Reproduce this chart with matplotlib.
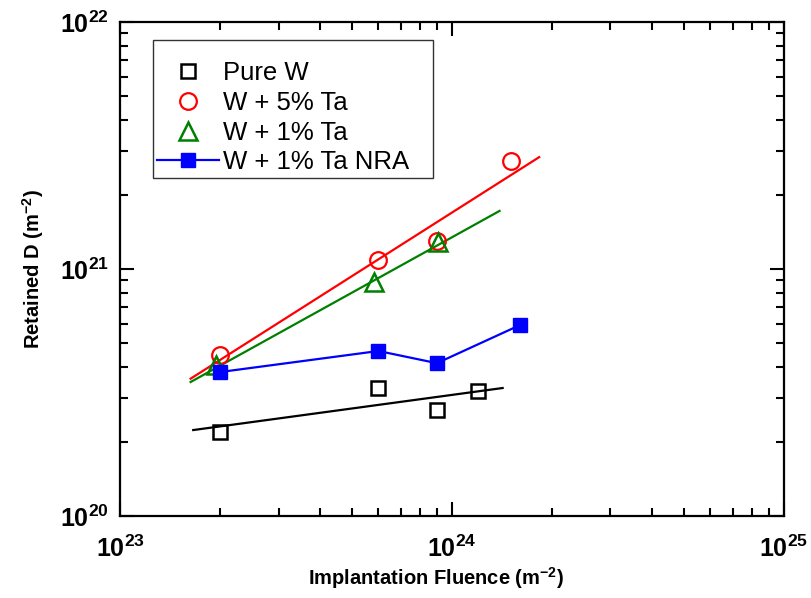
import math
import matplotlib
matplotlib.use("Agg")
import matplotlib.pyplot as plt
import matplotlib.ticker as ticker

# Data
fluence_pure = [2.0e23, 6.0e23, 9.0e23, 1.2e24]
retained_pure = [2.2e20, 3.3e20, 2.68e20, 3.2e20]

fluence_5ta = [2.0e23, 6.0e23, 9.0e23, 1.5e24]
retained_5ta = [4.5e20, 1.09e21, 1.3e21, 2.74e21]

fluence_1ta = [1.95e23, 5.8e23, 9.05e23]
retained_1ta = [4.1e20, 8.85e20, 1.29e21]

fluence_nra = [2.0e23, 6.0e23, 9.0e23, 1.6e24]
retained_nra = [3.83e20, 4.66e20, 4.16e20, 5.93e20]

# fitted trend lines (end points)
fit_pure_x = [1.66e23, 1.42e24]
fit_pure_y = [2.23e20, 3.3e20]
fit_5ta_x = [1.63e23, 1.83e24]
fit_5ta_y = [3.6e20, 2.84e21]
fit_1ta_x = [1.63e23, 1.39e24]
fit_1ta_y = [3.49e20, 1.72e21]

plt.rcParams['font.family'] = ['Liberation Sans', 'DejaVu Sans']
plt.rcParams['mathtext.fontset'] = 'custom'
plt.rcParams['mathtext.rm'] = 'Liberation Sans'
plt.rcParams['mathtext.bf'] = 'Liberation Sans:bold'

fig = plt.figure(figsize=(8.12, 5.98), dpi=100)
ax = fig.add_axes([0.148, 0.137, 0.8175, 0.826])

ax.plot(fit_pure_x, fit_pure_y, color='black', lw=1.6)
ax.plot(fit_5ta_x, fit_5ta_y, color='red', lw=1.6)
ax.plot(fit_1ta_x, fit_1ta_y, color='green', lw=1.6)

ax.plot(fluence_pure, retained_pure, ls='none', marker='s', ms=10.5, mfc='none',
        mec='black', mew=1.8, label='Pure W')
ax.plot(fluence_5ta, retained_5ta, ls='none', marker='o', ms=12, mfc='none',
        mec='red', mew=1.6, label='W + 5% Ta')
ax.plot(fluence_1ta, retained_1ta, ls='none', marker='^', ms=13.5, mfc='none',
        mec='green', mew=1.8, label='W + 1% Ta')
ax.plot(fluence_nra, retained_nra, color='blue', lw=1.6, marker='s', ms=10,
        mfc='blue', mec='blue', label='W + 1% Ta NRA   ')

ax.set_xscale('log')
ax.set_yscale('log')
ax.set_xlim(1e23, 1e25)
ax.set_ylim(1e20, 1e22)

fmt = ticker.FuncFormatter(lambda v, p: r'$\mathbf{10^{%d}}$' % round(math.log10(v)))
ax.xaxis.set_major_formatter(fmt)
ax.yaxis.set_major_formatter(fmt)
ax.xaxis.set_minor_formatter(ticker.NullFormatter())
ax.yaxis.set_minor_formatter(ticker.NullFormatter())

ax.tick_params(which='both', direction='in', top=True, right=True, width=1.5)
ax.tick_params(which='major', length=10, labelsize=18)
ax.tick_params(axis='x', which='major', pad=14)
ax.tick_params(axis='y', which='major', pad=8)
ax.tick_params(which='minor', length=6)
for s in ax.spines.values():
    s.set_linewidth(1.6)

ax.set_xlabel(r'Implantation Fluence (m$^{\mathbf{-2}}$)', fontsize=14.5, fontweight='bold')
ax.set_ylabel(r'Retained D (m$^{\mathbf{-2}}$)', fontsize=14.5, fontweight='bold')
ax.xaxis.set_label_coords(0.476, -0.1)
ax.yaxis.set_label_coords(-0.112, 0.5)

leg = ax.legend(loc='upper left', bbox_to_anchor=(0.05, 0.964), fontsize=18.5,
                frameon=True, fancybox=False, borderpad=0.15, borderaxespad=0,
                handlelength=2.4, handletextpad=0.15, labelspacing=0.22,
                title=' ', title_fontsize=9)
leg.get_frame().set_edgecolor('black')
leg.get_frame().set_linewidth(1.0)

fig.savefig('out.png', dpi=100)
